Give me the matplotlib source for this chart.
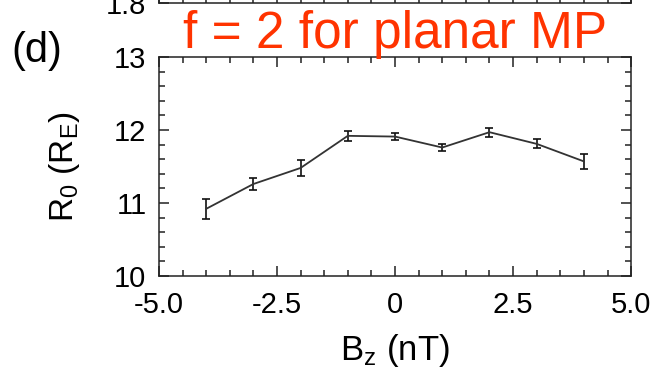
import numpy as np
import matplotlib.pyplot as plt
from matplotlib.ticker import MultipleLocator

plt.rcParams['font.family'] = ['Liberation Sans', 'DejaVu Sans']
plt.rcParams['mathtext.fontset'] = 'custom'
plt.rcParams['mathtext.rm'] = 'Liberation Sans'
plt.rcParams['mathtext.it'] = 'Liberation Sans'

# Bz (nT) against standoff distance R0 (RE) with errors
bz = [-4, -3, -2, -1, 0, 1, 2, 3, 4]
r0 = [10.92, 11.26, 11.48, 11.92, 11.91, 11.76, 11.97, 11.81, 11.57]
r0_err = [0.14, 0.08, 0.11, 0.07, 0.05, 0.05, 0.06, 0.06, 0.10]

x_ticks = [-5.0, -2.5, 0.0, 2.5, 5.0]
x_labels = ['-5.0', '-2.5', '0', '2.5', '5.0']
y_ticks = [10, 11, 12, 13]

fig = plt.figure(figsize=(6.54, 3.75), dpi=100)


def style_axes(a):
    for s in a.spines.values():
        s.set_linewidth(1.1)
        s.set_color('#222222')
    a.tick_params(which='both', direction='in', top=True, right=True,
                  labelsize=21, width=1.1, color='#222222')
    a.tick_params(which='major', length=7.5)
    a.tick_params(which='minor', length=4.3)


# bottom edge of the panel above
ax_top = fig.add_axes([0.243, 0.992, 0.722, 0.3])
ax_top.set_xlim(-5, 5)
ax_top.set_ylim(1.8, 2.5)
ax_top.xaxis.set_major_locator(MultipleLocator(2.5))
ax_top.xaxis.set_minor_locator(MultipleLocator(0.5))
ax_top.set_yticks([1.8])
ax_top.set_yticklabels(['1.8'])
ax_top.set_xticklabels([])
style_axes(ax_top)
ax_top.tick_params(axis='y', pad=9)

ax = fig.add_axes([0.243, 0.264, 0.722, 0.584])
ax.errorbar(bz, r0, yerr=r0_err, color='#333333', lw=1.3,
            ecolor='#111111', elinewidth=1.2, capsize=2.8, capthick=1.2)
ax.set_xlim(-5, 5)
ax.set_ylim(10, 13)
ax.set_xticks(x_ticks)
ax.set_xticklabels(x_labels)
ax.set_yticks(y_ticks)
ax.xaxis.set_minor_locator(MultipleLocator(0.5))
ax.yaxis.set_minor_locator(MultipleLocator(0.2))
style_axes(ax)
ax.tick_params(axis='x', pad=11)
ax.tick_params(axis='y', pad=9)

ax.set_xlabel('B$_\\mathregular{z}$ (nT)', fontsize=25, labelpad=9)
ax.set_ylabel('R$_\\mathregular{0}$ (R$_\\mathregular{E}$)', fontsize=24, labelpad=23)

fig.text(0.057, 0.864, '(d)', fontsize=30, ha='center', va='center')
fig.text(0.604, 0.872, 'f = 2 for planar MP', fontsize=37, color='#ff3300',
         ha='center', va='baseline')

fig.savefig('out.png', dpi=100)
